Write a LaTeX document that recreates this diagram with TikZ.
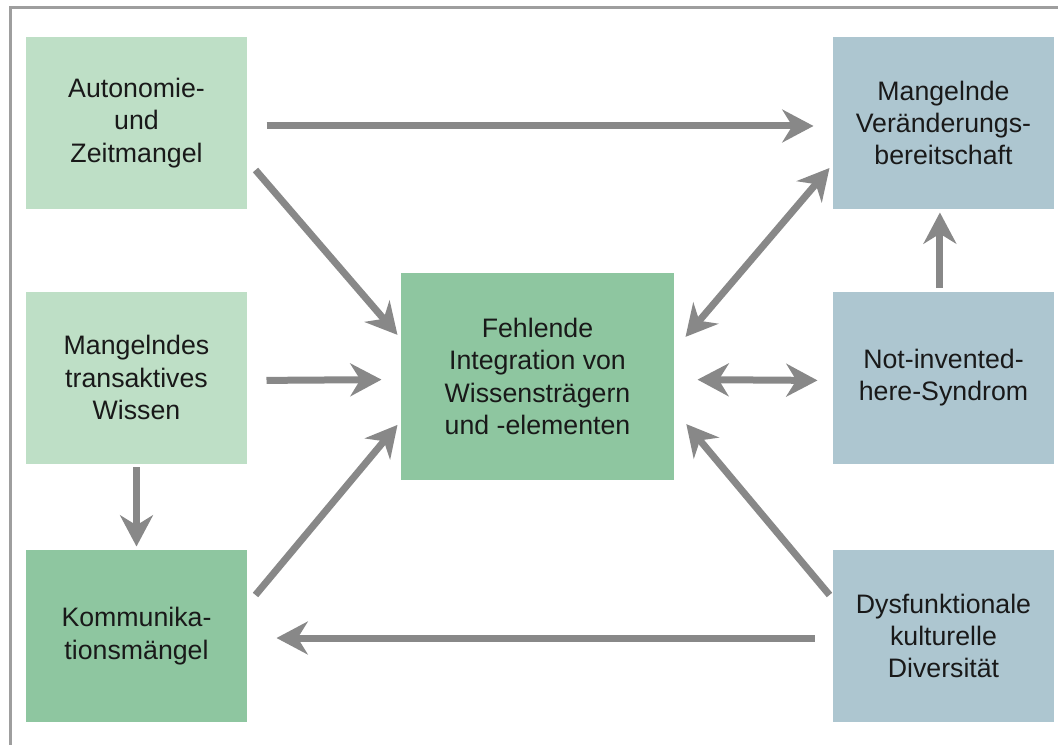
\documentclass[tikz,border=0pt]{standalone}
\usepackage{fontspec}
\setmainfont{Liberation Sans}
\usepackage{tikz}
\usetikzlibrary{arrows.meta}
\definecolor{lightgreen}{HTML}{BEDFC6}
\definecolor{midgreen}{HTML}{8EC6A0}
\definecolor{bluegray}{HTML}{ADC6D0}
\definecolor{arrowgray}{HTML}{888888}
\tikzset{box/.style={fill=lightgreen,text=black!90,align=center,
                     minimum width=5.525cm,minimum height=4.3cm,inner sep=0pt,
                     font=\fontsize{19}{23}\selectfont}}
\tikzset{effect/.style={box,fill=bluegray}}
\def\colsep{20.175cm}

\begin{document}
\begin{tikzpicture}[line width=0.175cm,draw=arrowgray,
    >={Stealth[length=0.78cm,width=0.82cm,inset=0.25cm]}]
    \tikzstyle{link}=[->,draw=arrowgray]
    \tikzstyle{twoway}=[<->,draw=arrowgray]
    \useasboundingbox (0,0) rectangle (26.45,-18.625);

    % Frame (only top and left edge are visible)
    \draw[line width=0.075cm,draw=black!38] (0.25,-18.625) -- (0.25,-0.2) -- (26.45,-0.2);

    % Draw the causes on the left
    \node[box] (auto) at (3.4125,-3.075) {Autonomie-\\und\\Zeitmangel};
    \node[box] (wissen) at (3.4125,-9.4375) {Mangelndes\\transaktives\\Wissen};
    \node[box,fill=midgreen] (komm) at (3.4125,-15.9) {Kommunika-\\tionsm\"angel};

    % Central problem
    \node[box,fill=midgreen,minimum width=6.825cm,minimum height=5.175cm]
        (center) at (13.4375,-9.4125) {Fehlende\\Integration von\\Wissenstr\"agern\\und -elementen};

    % Draw the nodes on the right
    \foreach \name / \y / \txt in {mangel/-3.075/{Mangelnde\\Ver\"anderungs-\\bereitschaft},
                                   notinv/-9.4375/{Not-invented-\\here-Syndrom},
                                   dysf/-15.9/{Dysfunktionale\\kulturelle\\Diversit\"at}}
        \node[effect] (\name) at (3.4125cm+\colsep,\y) {\txt};

    % Straight connections
    \draw[link,shorten <=0.4cm,shorten >=0.4cm] ([yshift=-0.075cm]auto.east) -- ([yshift=-0.075cm]mangel.west);
    \draw[link,shorten <=0.4cm,shorten >=0.4cm] ([yshift=-0.075cm]wissen.east) -- ([yshift=-0.075cm]center.west);
    \draw[link,shorten >=0.0cm] (wissen.south) -- (komm.north);
    \draw[link,shorten <=0.375cm,shorten >=0.65cm] ([yshift=-0.05cm]dysf.west) -- ([yshift=-0.05cm]komm.east);
    \draw[link,shorten >=0.0cm] ([xshift=-0.09cm]notinv.north) -- ([xshift=-0.09cm]mangel.south);

    % Diagonal connections into the centre
    \draw[link] ([xshift=0.125cm,yshift=-1.175cm]auto.east) -- ([yshift=1.04cm]center.west);
    \draw[link] ([xshift=0.125cm,yshift=1.025cm]komm.east) -- ([yshift=-1.21cm]center.west);
    \draw[link] ([yshift=1.025cm]dysf.west) -- ([xshift=0.22cm,yshift=-1.19cm]center.east);

    % Two-way connections
    \draw[twoway,shorten <=0.5cm,shorten >=0.3cm] ([yshift=-0.075cm]center.east) -- ([yshift=-0.075cm]notinv.west);
    \draw[twoway] ([xshift=0.2cm,yshift=0.99cm]center.east) -- ([yshift=-1.125cm]mangel.west);
\end{tikzpicture}
\end{document}
